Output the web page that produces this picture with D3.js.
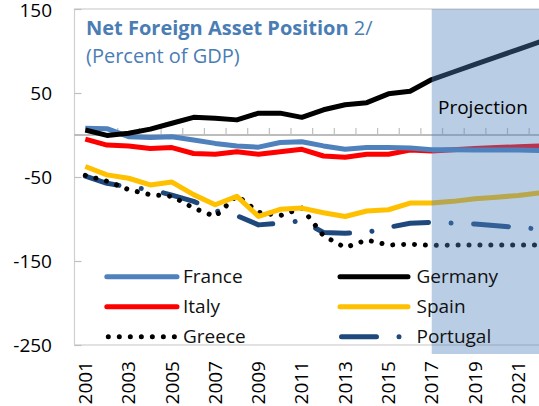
<!DOCTYPE html>
<html lang="en">
<head>
    <meta charset="UTF-8">
    <script src="https://d3js.org/d3.v7.min.js"></script>
    <style>
        body {
            margin: 0;
            padding: 0;
            background-color: #ffffff;
            font-family: 'Open Sans', sans-serif;
        }

        svg {
            display: block;
        }

        .tick-label {
            font-size: 19px;
            fill: #000000;
        }

        .series {
            fill: none;
            stroke-width: 5;
            stroke-linejoin: round;
        }

        .legend-text {
            font-size: 19px;
            fill: #111111;
        }
    </style>
</head>
<body>
    <svg id="chart" width="539" height="406"></svg>

    <script>
        // Data (percent of GDP)
        const years = [2001, 2002, 2003, 2004, 2005, 2006, 2007, 2008, 2009, 2010, 2011,
            2012, 2013, 2014, 2015, 2016, 2017, 2018, 2019, 2020, 2021, 2022];

        const france = [8, 7.5, -2, -3, -2, -6, -10, -13, -14.5, -9, -8,
            -13, -17, -15, -15, -15.5, -17.5, -17.5, -18, -18, -18, -18.5];
        const germany = [6, -0.5, 2, 7, 14, 21, 20, 18, 26, 26, 21,
            30, 36, 38.5, 49, 52, 66, 75, 84, 93, 102, 111];
        const italy = [-5, -12, -13, -16, -15, -22, -23, -20, -23, -20, -17,
            -25, -26.5, -23, -23, -18, -19, -17.5, -16, -15, -14, -13];
        const spain = [-37.5, -47.5, -51.5, -59.5, -56, -71, -83, -73, -97, -88.5, -87,
            -92.5, -97, -90.5, -89, -81, -81, -79, -76, -74, -72, -69];
        const greece = [-48, -55, -65, -71, -73, -87, -97, -72, -92, -96, -87,
            -120, -134, -125, -131, -130, -131.5, -131, -131, -131, -131, -131];
        const portugal = [-49, -57.5, -62, -65, -71.5, -79, -90, -96, -107, -105, -102,
            -116, -117, -116, -110, -105, -104, -105, -106, -108, -110, -112];

        const yTicks = [150, 50, -50, -150, -250];
        const xTickLabels = [2001, 2003, 2005, 2007, 2009, 2011, 2013, 2015, 2017, 2019, 2021];
        const projectionStart = 2017;

        const width = 539;
        const height = 406;
        const plot = { left: 74.5, top: 9, bottom: 345, band: 21.65 };

        const svg = d3.select("#chart");

        const x = d3.scaleBand()
            .domain(years)
            .range([plot.left, plot.left + years.length * plot.band]);

        const y = d3.scaleLinear()
            .domain([-250, 150])
            .range([plot.bottom, plot.top]);

        const cx = d => x(d) + x.bandwidth() / 2;

        // plot frame
        svg.append("rect")
            .attr("x", plot.left)
            .attr("y", plot.top)
            .attr("width", 600)
            .attr("height", plot.bottom - plot.top)
            .attr("fill", "none")
            .attr("stroke", "#cfcfcf")
            .attr("stroke-width", 1.2);

        // value axis on the left (ticks point inward)
        const yAxis = d3.axisRight(y)
            .tickValues(yTicks)
            .tickSize(7)
            .tickFormat("");
        svg.append("g")
            .attr("transform", `translate(${plot.left},0)`)
            .call(yAxis)
            .call(g => g.select(".domain").remove())
            .call(g => g.selectAll("line").attr("stroke", "#bfbfbf").attr("stroke-width", 1.2));

        svg.append("g")
            .selectAll("text")
            .data(yTicks)
            .join("text")
            .attr("class", "tick-label")
            .attr("x", 52)
            .attr("y", d => Math.max(y(d), 10))
            .attr("dy", "0.35em")
            .attr("text-anchor", "end")
            .text(d => d);

        // category axis crossing at zero, tick marks at band edges
        const y0 = y(0);
        svg.append("line")
            .attr("x1", plot.left)
            .attr("x2", width)
            .attr("y1", y0)
            .attr("y2", y0)
            .attr("stroke", "#a6a6a6")
            .attr("stroke-width", 1.3);

        svg.append("g")
            .selectAll("line")
            .data(years)
            .join("line")
            .attr("x1", d => x(d) + x.bandwidth())
            .attr("x2", d => x(d) + x.bandwidth())
            .attr("y1", y0 - 7)
            .attr("y2", y0)
            .attr("stroke", "#bfbfbf")
            .attr("stroke-width", 1.2);

        svg.append("g")
            .selectAll("text")
            .data(xTickLabels)
            .join("text")
            .attr("class", "tick-label")
            .attr("transform", d => `translate(${cx(d)},361) rotate(-90)`)
            .attr("dy", "0.35em")
            .attr("text-anchor", "end")
            .text(d => d);

        // series
        const seriesList = [
            { name: "France", values: france, color: "#4f81bd", dash: null },
            { name: "Germany", values: germany, color: "#000000", dash: null },
            { name: "Italy", values: italy, color: "#ff0000", dash: null },
            { name: "Spain", values: spain, color: "#ffc000", dash: null },
            { name: "Greece", values: greece, color: "#000000", dash: "0.01,10.9" },
            { name: "Portugal", values: portugal, color: "#1f497d", dash: "35,22.5,0.01,22.5" }
        ];

        const line = d3.line()
            .x((d, i) => cx(years[i]))
            .y(d => y(d));

        const drawOrder = ["Portugal", "Greece", "Spain", "Italy", "France", "Germany"];
        drawOrder.forEach(name => {
            const s = seriesList.find(d => d.name === name);
            svg.append("path")
                .datum(s.values)
                .attr("class", "series")
                .attr("stroke", s.color)
                .attr("stroke-linecap", s.dash ? "round" : "butt")
                .attr("stroke-dasharray", s.dash)
                .attr("d", line);
        });

        // projection shading drawn over the lines
        const shadeX = cx(projectionStart);
        svg.append("rect")
            .attr("x", shadeX)
            .attr("y", plot.top)
            .attr("width", width - shadeX)
            .attr("height", 354 - plot.top)
            .attr("fill", "#4f81bd")
            .attr("fill-opacity", 0.4);

        svg.append("text")
            .attr("x", 438)
            .attr("y", 114)
            .attr("font-size", 19)
            .attr("fill", "#000000")
            .text("Projection");

        // title
        const title = svg.append("text")
            .attr("x", 86)
            .attr("y", 35)
            .attr("font-size", 20)
            .attr("fill", "#4a7db4");
        title.append("tspan").attr("font-weight", "bold").text("Net Foreign Asset Position");
        title.append("tspan").text(" 2/");

        svg.append("text")
            .attr("x", 86)
            .attr("y", 63)
            .attr("font-size", 20)
            .attr("fill", "#4a7db4")
            .text("(Percent of GDP)");

        // legend: two columns
        const legendRows = [276.7, 306.7, 336.7];
        const legendCols = [{ x1: 108.3, x2: 177, tx: 183 }, { x1: 341.5, x2: 408, tx: 416.5 }];
        const legendOrder = ["France", "Germany", "Italy", "Spain", "Greece", "Portugal"];

        const legend = svg.append("g");
        legendOrder.forEach((name, i) => {
            const s = seriesList.find(d => d.name === name);
            const col = legendCols[i % 2];
            const ly = legendRows[Math.floor(i / 2)];
            legend.append("line")
                .attr("x1", s.dash ? col.x1 : col.x1 - 1.5)
                .attr("x2", name === "Portugal" ? 400 : col.x2)
                .attr("y1", ly)
                .attr("y2", ly)
                .attr("stroke", s.color)
                .attr("stroke-width", 5)
                .attr("stroke-linecap", "round")
                .attr("stroke-dasharray", name === "Greece" ? "0.01,11" : s.dash);
            legend.append("text")
                .attr("class", "legend-text")
                .attr("x", col.tx)
                .attr("y", ly)
                .attr("dy", "0.35em")
                .text(name);
        });
    </script>
</body>
</html>
